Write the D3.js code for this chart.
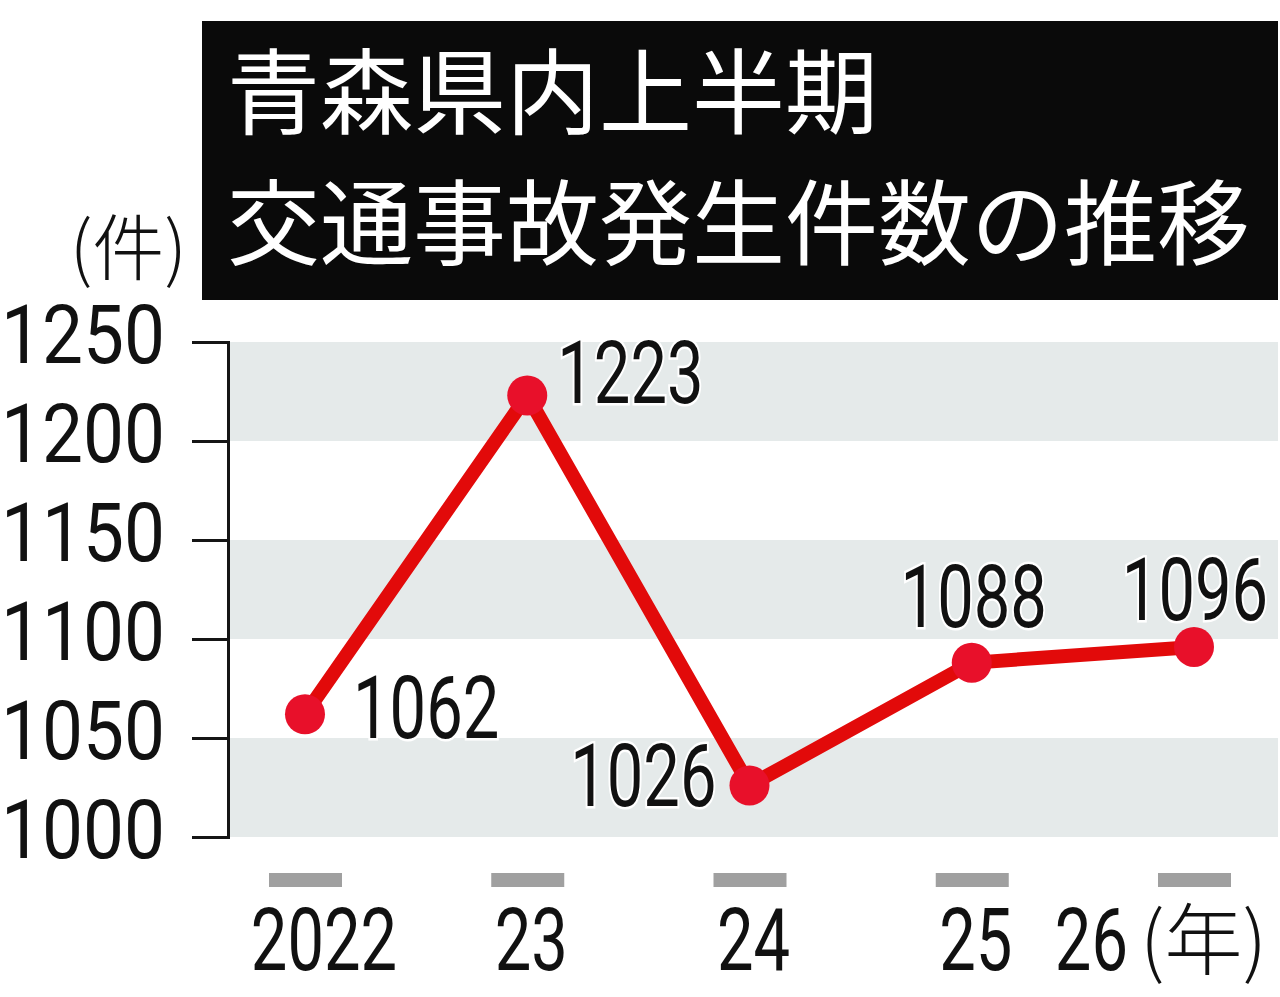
<!DOCTYPE html>
<html>
<head>
<meta charset="utf-8">
<script src="https://cdn.jsdelivr.net/npm/d3@7"></script>
<style>
  html, body { margin: 0; padding: 0; background: #fff; }
  svg { display: block; }
  .num { font-family: Roboto, "Liberation Sans", sans-serif; font-weight: 400; fill: #111; }
  .cjk { font-family: "Noto Sans CJK JP", sans-serif; }
</style>
</head>
<body>
<svg width="1280" height="997"></svg>
<script>
// data
const years = ["2022", "23", "24", "25", "26"];
const counts = [1062, 1223, 1026, 1088, 1096];
const yTicks = [1000, 1050, 1100, 1150, 1200, 1250];
const titleLines = ["青森県内上半期", "交通事故発生件数の推移"];
const yUnit = "(件)";
const xUnit = "(年)";

// layout
const plotLeft = 229;
const plotRight = 1278;
const numSize = 88;     // data + x labels
const numScale = 0.74;  // condensed look
const tickSize = 81;
const tickScale = 0.9;

// where each value label sits relative to its point
const labelPlace = [
    { dx: 48, dy: 24, anchor: "start" },
    { dx: 30, dy: 8, anchor: "start" },
    { dx: -33, dy: 20, anchor: "end" },
    { dx: 2, dy: -36, anchor: "middle" },
    { dx: 1, dy: -27, anchor: "middle" },
];

const svg = d3.select("svg");

const x = d3.scalePoint().domain(years).range([305, 1194]);
const y = d3.scaleLinear().domain([1000, 1250]).range([837, 342]);

//squeezed text helper
function numText(g, px, py, str, size, sx, anchor) {
    return g.append("g")
        .attr("transform", "translate(" + px + "," + py + ")")
        .append("text")
        .attr("class", "num")
        .attr("transform", "scale(" + sx + ",1)")
        .attr("text-anchor", anchor)
        .attr("font-size", size)
        .text(str);
}

// title box
svg.append("rect")
    .attr("x", 202)
    .attr("y", 21)
    .attr("width", 1076)
    .attr("height", 279)
    .attr("fill", "#0a0a0a");

svg.selectAll(".title")
    .data(titleLines)
    .enter()
    .append("text")
    .attr("class", "title cjk")
    .attr("x", 227)
    .attr("y", (d, i) => 127 + i * 131)
    .attr("font-size", 93)
    .attr("font-weight", 400)
    .attr("fill", "#fff")
    .text((d) => d);

// unit label
svg.append("text")
    .attr("class", "cjk")
    .attr("x", 187)
    .attr("y", 274)
    .attr("text-anchor", "end")
    .attr("font-size", 72)
    .attr("font-weight", 300)
    .attr("fill", "#111")
    .text(yUnit);

// grey bands
const bands = yTicks.filter((d, i) => i % 2 === 0 && i + 1 < yTicks.length);
svg.append("g")
    .selectAll("rect")
    .data(bands)
    .enter()
    .append("rect")
    .attr("x", plotLeft)
    .attr("width", plotRight - plotLeft)
    .attr("y", (d) => y(d + 50))
    .attr("height", (d) => y(d) - y(d + 50))
    .attr("fill", "#e5eaea");

// y axis (line + ticks only)
const yAxis = svg.append("g")
    .attr("transform", "translate(228,0)")
    .call(d3.axisLeft(y).tickValues(yTicks).tickSize(36).tickFormat(""));
yAxis.selectAll("path, line")
    .attr("stroke", "#151515")
    .attr("stroke-width", 3);

const yLab = svg.append("g");
yTicks.forEach((t) => numText(yLab, 165, y(t) + 21, t, tickSize, tickScale, "end"));

// x markers + labels
svg.append("g")
    .selectAll("rect")
    .data(years)
    .enter()
    .append("rect")
    .attr("x", (d) => x(d) - 36)
    .attr("y", 873)
    .attr("width", 73)
    .attr("height", 14)
    .attr("fill", "#a0a0a0");

const xLab = svg.append("g");
years.forEach((d, i) => {
    if (i === years.length - 1) {
        numText(xLab, x(d) - 66, 970, d, numSize, numScale, "end");
    } else {
        numText(xLab, x(d) + (i === 0 ? 19 : 4), 970, d, numSize, numScale, "middle");
    }
});
xLab.append("text")
    .attr("class", "cjk")
    .attr("x", 1140)
    .attr("y", 969)
    .attr("font-size", 78)
    .attr("font-weight", 300)
    .attr("fill", "#111")
    .text(xUnit);

// the line
const pts = years.map((d, i) => [x(d), y(counts[i])]);
svg.append("path")
    .attr("d", d3.line()(pts))
    .attr("fill", "none")
    .attr("stroke", "#e20a0a")
    .attr("stroke-width", 14)
    .attr("stroke-linejoin", "miter");

svg.append("g")
    .selectAll("circle")
    .data(pts)
    .enter()
    .append("circle")
    .attr("cx", (d) => d[0])
    .attr("cy", (d) => d[1])
    .attr("r", 20)
    .attr("fill", "#e8102a");

// value labels
const vLab = svg.append("g");
counts.forEach((c, i) => {
    const p = labelPlace[i];
    numText(vLab, pts[i][0] + p.dx, pts[i][1] + p.dy, c, numSize, numScale, p.anchor)
        .attr("stroke", "#fff")
        .attr("stroke-width", 5)
        .attr("paint-order", "stroke");
});
</script>
</body>
</html>
